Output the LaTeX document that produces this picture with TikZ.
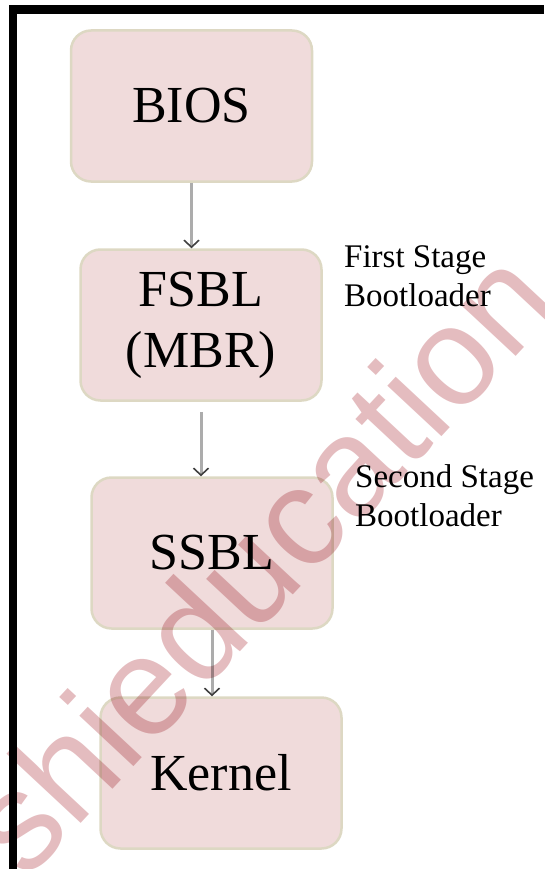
\documentclass[tikz,border=0pt]{standalone}
\usepackage{fontspec}
\setmainfont{Liberation Serif}
\newfontfamily\markfont{Liberation Sans}
\usetikzlibrary{positioning, arrows.meta}
\definecolor{boxfill}{RGB}{240,219,219}
\definecolor{boxline}{RGB}{221,216,195}
\definecolor{arrowgrey}{RGB}{172,172,172}
\definecolor{markpink}{RGB}{228,188,191}

\begin{document}
\begin{tikzpicture}[x=1pt, y=-1pt,
  stagebox/.style={draw=boxline, line width=2.5pt, fill=boxfill, rounded corners=20pt,
    minimum width=241pt, minimum height=151pt, align=center,
    font=\fontsize{52}{61}\selectfont},
  note/.style={anchor=north west, inner sep=0pt, align=left,
    font=\fontsize{33}{39}\selectfont},
  flow/.style={draw=arrowgrey, line width=3pt,
    -{Straight Barb[length=7pt, width=15pt, line width=1.6pt, color=black!75]}}]

\useasboundingbox (0,0) rectangle (544,869);

% Cadre
\draw[line width=8.5pt] (13,869) -- (13,9.5) -- (544,9.5);

% Etapes du demarrage
\node[stagebox] (bios)   at (191.5,106) {BIOS};
\node[stagebox] (fsbl)   at (201,325)   {FSBL\\(MBR)};
\node[stagebox] (ssbl)   at (212,553)   {SSBL};
\node[stagebox] (kernel) at (221,773)   {Kernel};

% Legendes
\node[note] (fslabel) at (344,245) {First Stage\\Bootloader};
\node[note] (sslabel) at (355,464) {Second Stage\\Bootloader};

% Fleches
\draw[flow] (bios.south) -- (bios.south |- fsbl.north);
\draw[flow, shorten <=10pt] (fsbl.south) -- (fsbl.south |- ssbl.north);
\draw[flow] (ssbl.south) -- (ssbl.south |- kernel.north);

% Filigrane
\begin{scope}[blend mode=multiply]
  \node[rotate=47, text=markpink, font=\markfont\fontsize{140}{140}\selectfont] (wmark)
    at (258,560) {shieducation};
\end{scope}

\end{tikzpicture}
\end{document}
